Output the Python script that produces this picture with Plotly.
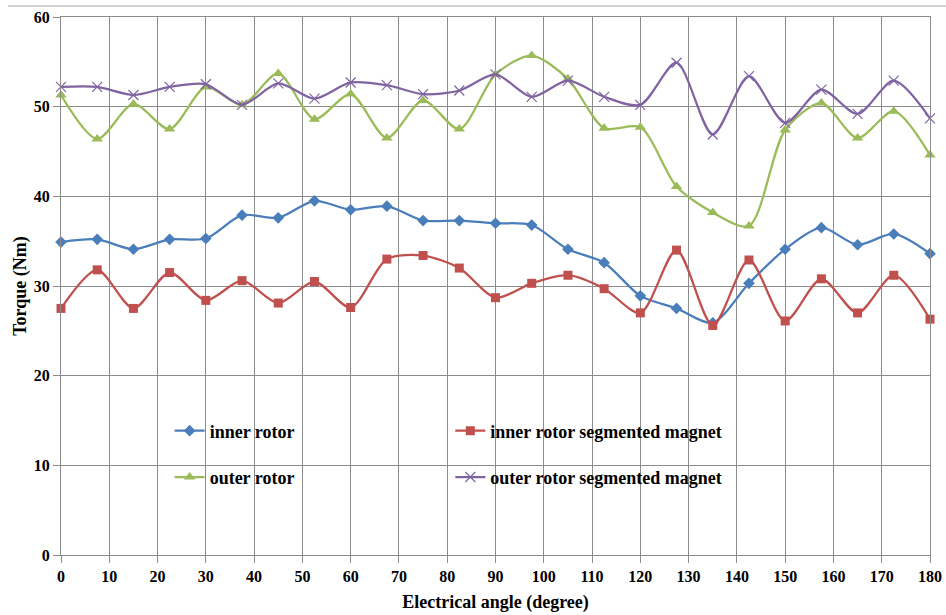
import plotly.graph_objects as go

angles = [0, 7.5, 15, 22.5, 30, 37.5, 45, 52.5, 60, 67.5, 75, 82.5, 90, 97.5,
          105, 112.5, 120, 127.5, 135, 142.5, 150, 157.5, 165, 172.5, 180]

inner_rotor = [34.9, 35.2, 34.1, 35.2, 35.3, 37.9, 37.6, 39.5, 38.5, 38.9, 37.3, 37.3, 37.0,
               36.8, 34.1, 32.6, 28.9, 27.5, 25.9, 30.3, 34.1, 36.5, 34.6, 35.8, 33.6]
inner_rotor_seg = [27.5, 31.8, 27.5, 31.5, 28.4, 30.6, 28.1, 30.5, 27.6, 33.0, 33.4, 32.0, 28.7,
                   30.3, 31.2, 29.7, 27.0, 34.0, 25.6, 32.9, 26.1, 30.8, 27.0, 31.2, 26.3]
outer_rotor = [51.3, 46.4, 50.3, 47.5, 52.2, 50.2, 53.7, 48.6, 51.4, 46.5, 50.7, 47.5, 53.6,
               55.7, 53.1, 47.6, 47.7, 41.1, 38.2, 36.7, 47.4, 50.4, 46.5, 49.5, 44.6]
outer_rotor_seg = [52.2, 52.2, 51.3, 52.2, 52.5, 50.2, 52.6, 50.9, 52.7, 52.4, 51.4, 51.8, 53.6,
                   51.1, 52.9, 51.1, 50.2, 54.9, 46.9, 53.4, 48.2, 51.9, 49.2, 52.9, 48.7]

x_ticks = list(range(0, 181, 10))
y_ticks = list(range(0, 61, 10))

FONT = "'Liberation Serif', 'Times New Roman', Tinos, 'DejaVu Serif', serif"

series = [
    ("inner rotor", inner_rotor, "#4A7EBB", "diamond", 9, "legend", "g1"),
    ("outer rotor", outer_rotor, "#9BBB59", "triangle-up", 10, "legend", "g2"),
    ("inner rotor segmented magnet", inner_rotor_seg, "#C0504D", "square", 9, "legend2", "g3"),
    ("outer rotor segmented magnet", outer_rotor_seg, "#8064A2", "x-thin", 10, "legend2", "g4"),
]

fig = go.Figure()
for name, vals, color, sym, size, leg, grp in series:
    marker = dict(symbol=sym, size=size, color=color)
    if sym == "x-thin":
        marker["line"] = dict(color=color, width=1.2)
    fig.add_trace(go.Scatter(
        x=angles, y=vals, name=name, mode="lines+markers",
        line=dict(color=color, width=2.25, shape="spline", smoothing=0.8),
        marker=marker, cliponaxis=False, legend=leg, legendgroup=grp,
    ))

axis_common = dict(
    showgrid=True, gridcolor="#8C8C8C", gridwidth=1,
    showline=True, linecolor="#8C8C8C", linewidth=1, mirror=True,
    ticks="outside", ticklen=7, tickcolor="#8C8C8C",
    tickfont=dict(family=FONT, size=16, color="black", weight="bold"),
    zeroline=False, automargin=False,
)

fig.update_xaxes(range=[0, 180], tickvals=x_ticks,
                 title=dict(text="Electrical angle (degree)",
                            font=dict(family=FONT, size=18, color="black", weight="bold"),
                            standoff=11),
                 **axis_common)
fig.update_yaxes(range=[0, 60], tickvals=y_ticks,
                 title=dict(text="Torque (Nm)",
                            font=dict(family=FONT, size=18, color="black", weight="bold"),
                            standoff=2),
                 **axis_common)

legend_font = dict(family=FONT, size=18, color="black", weight="bold")
fig.update_layout(
    width=946, height=615,
    margin=dict(l=61, r=16, t=17, b=60),
    paper_bgcolor="white", plot_bgcolor="white",
    showlegend=True,
    legend=dict(x=0.125, y=0.265, xanchor="left", yanchor="top", orientation="v",
                bgcolor="rgba(0,0,0,0)", font=legend_font, tracegroupgap=20,
                traceorder="grouped", itemwidth=30),
    legend2=dict(x=0.448, y=0.265, xanchor="left", yanchor="top", orientation="v",
                 bgcolor="rgba(0,0,0,0)", font=legend_font, tracegroupgap=20,
                 traceorder="grouped", itemwidth=30),
    shapes=[dict(type="line", xref="paper", yref="paper",
                 x0=-0.061, x1=1.02, y0=1.0204, y1=1.0204,
                 line=dict(color="#A6A6A6", width=1))],
)

fig.write_html("out.html", config={"displayModeBar": False},
               post_script="document.body.style.margin='0px';")
